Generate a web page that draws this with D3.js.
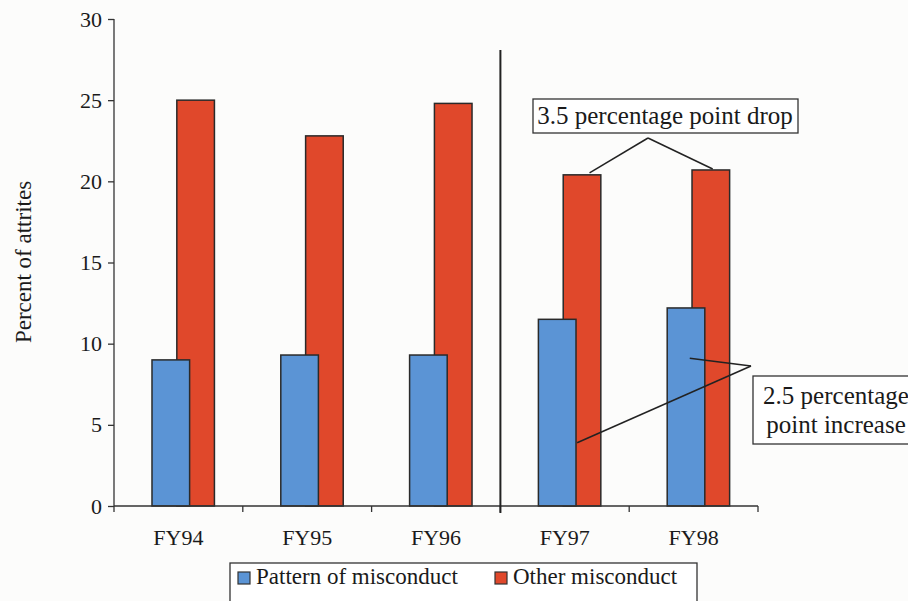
<!DOCTYPE html>
<html>
<head>
<meta charset="utf-8">
<script src="https://cdn.jsdelivr.net/npm/d3@7"></script>
<style>
  body { margin: 0; background: #fcfcfb; }
  text { font-family: "Liberation Serif", "Times New Roman", serif; fill: #1a1a1a; }
  .axis path, .axis line { stroke: #333; stroke-width: 1.3; }
  .bar { stroke: #2a2a2a; stroke-width: 1.5; }
  .note-box { fill: #fff; stroke: #333; stroke-width: 1.3; }
  .note-line { stroke: #222; stroke-width: 1.5; fill: none; }
</style>
</head>
<body>
<div id="container"></div>
<script>
var categories = ["FY94", "FY95", "FY96", "FY97", "FY98"];
var patternValues = [9.0, 9.3, 9.3, 11.5, 12.2];
var otherValues = [25.0, 22.8, 24.8, 20.4, 20.7];
var yTicks = [0, 5, 10, 15, 20, 25, 30];
var seriesNames = ["Pattern of misconduct", "Other misconduct"];
var seriesColors = ["#5b94d5", "#e0482b"];

var chartWidth = 908, chartHeight = 601;

var chart = d3.select("#container").
append("svg").
attr("width", chartWidth).
attr("height", chartHeight);

var x = d3.scaleBand().
domain(categories).
range([114, 758]).
padding(0);

var y = d3.scaleLinear().
domain([0, 30]).
range([506, 19]);

// bar geometry inside each band (red sits behind and overlaps blue)
var barW = x.bandwidth() * 0.292;
function blueX(c) {return x(c) + x.bandwidth() * 0.295;}
function redX(c) {return blueX(c) + barW * 0.66;}

// red bars first so blue draws on top
chart.append("g").selectAll("rect").
data(categories).
enter().
append("rect").
attr("class", "bar").
attr("x", function (d) {return redX(d);}).
attr("y", function (d, i) {return y(otherValues[i]);}).
attr("width", barW).
attr("height", function (d, i) {return y(0) - y(otherValues[i]);}).
attr("fill", seriesColors[1]);

chart.append("g").selectAll("rect").
data(categories).
enter().
append("rect").
attr("class", "bar").
attr("x", function (d) {return blueX(d);}).
attr("y", function (d, i) {return y(patternValues[i]);}).
attr("width", barW).
attr("height", function (d, i) {return y(0) - y(patternValues[i]);}).
attr("fill", seriesColors[0]);

// y axis
var yAxis = d3.axisLeft(y).
tickValues(yTicks).
tickSize(6).
tickPadding(6);
var yG = chart.append("g").
attr("class", "axis").
attr("transform", "translate(114,0)").
call(yAxis);
yG.select(".domain").attr("d", "M0," + y(30) + "V" + y(0));
yG.selectAll("text").style("font-size", "22px").style("font-family", "'Liberation Serif', serif");

// x axis, ticks at the band edges
var xG = chart.append("g").
attr("class", "axis").
attr("transform", "translate(0," + y(0) + ")");
xG.append("path").
attr("d", "M114,0H758");
xG.selectAll("line").
data(categories.concat(["end"])).
enter().
append("line").
attr("x1", function (d, i) {return 114 + x.bandwidth() * i;}).
attr("x2", function (d, i) {return 114 + x.bandwidth() * i;}).
attr("y1", 0).
attr("y2", 6);
xG.selectAll("text").
data(categories).
enter().
append("text").
attr("x", function (d) {return x(d) + x.bandwidth() / 2;}).
attr("y", 39).
attr("text-anchor", "middle").
style("font-size", "22px").
text(function (d) {return d;});

// divider between FY96 and FY97
chart.append("line").
attr("x1", x("FY97")).
attr("x2", x("FY97")).
attr("y1", 50).
attr("y2", y(0) + 7).
attr("stroke", "#222").
attr("stroke-width", 2);

// y label
chart.append("text").
attr("transform", "translate(31," + 262 + ") rotate(-90)").
attr("text-anchor", "middle").
style("font-size", "23px").
text("Percent of attrites");

// drop annotation
var dropX = 665, dropY = 134;
chart.append("line").attr("class", "note-line").
attr("x1", dropX - 17).attr("y1", dropY + 4).
attr("x2", redX("FY97") + barW * 0.7).attr("y2", y(otherValues[3]) - 2);
chart.append("line").attr("class", "note-line").
attr("x1", dropX - 17).attr("y1", dropY + 4).
attr("x2", redX("FY98") + barW * 0.55).attr("y2", y(otherValues[4]) - 1);
chart.append("rect").attr("class", "note-box").
attr("x", 533).attr("y", 99).attr("width", 265).attr("height", 34);
chart.append("text").
attr("x", 665).attr("y", 124).
attr("text-anchor", "middle").
style("font-size", "25px").
text("3.5 percentage point drop");

// increase annotation
var incX = 751, incY = 366;
chart.append("line").attr("class", "note-line").
attr("x1", incX).attr("y1", incY).
attr("x2", blueX("FY98") + barW * 0.6).attr("y2", y(9.1));
chart.append("line").attr("class", "note-line").
attr("x1", incX).attr("y1", incY).
attr("x2", blueX("FY97") + barW * 1.03).attr("y2", y(3.9));
chart.append("rect").attr("class", "note-box").
attr("x", 753).attr("y", 376).attr("width", 160).attr("height", 68);
chart.append("text").
attr("x", 836).attr("y", 404).
attr("text-anchor", "middle").
style("font-size", "25px").
text("2.5 percentage");
chart.append("text").
attr("x", 836).attr("y", 433).
attr("text-anchor", "middle").
style("font-size", "25px").
text("point increase");

// legend
var legend = chart.append("g").
attr("transform", "translate(230,563)");
legend.append("rect").
attr("width", 467).
attr("height", 45).
attr("fill", "#fff").
attr("stroke", "#333").
attr("stroke-width", 1.3);
var legendX = [8, 265];
legend.selectAll("rect.sw").
data(seriesNames).
enter().
append("rect").
attr("class", "sw").
attr("x", function (d, i) {return legendX[i];}).
attr("y", 9).
attr("width", 12).
attr("height", 12).
attr("fill", function (d, i) {return seriesColors[i];}).
attr("stroke", "#333").
attr("stroke-width", 1.2);
legend.selectAll("text").
data(seriesNames).
enter().
append("text").
attr("x", function (d, i) {return legendX[i] + 18;}).
attr("y", 21).
style("font-size", "23px").
text(function (d) {return d;});
</script>
</body>
</html>
